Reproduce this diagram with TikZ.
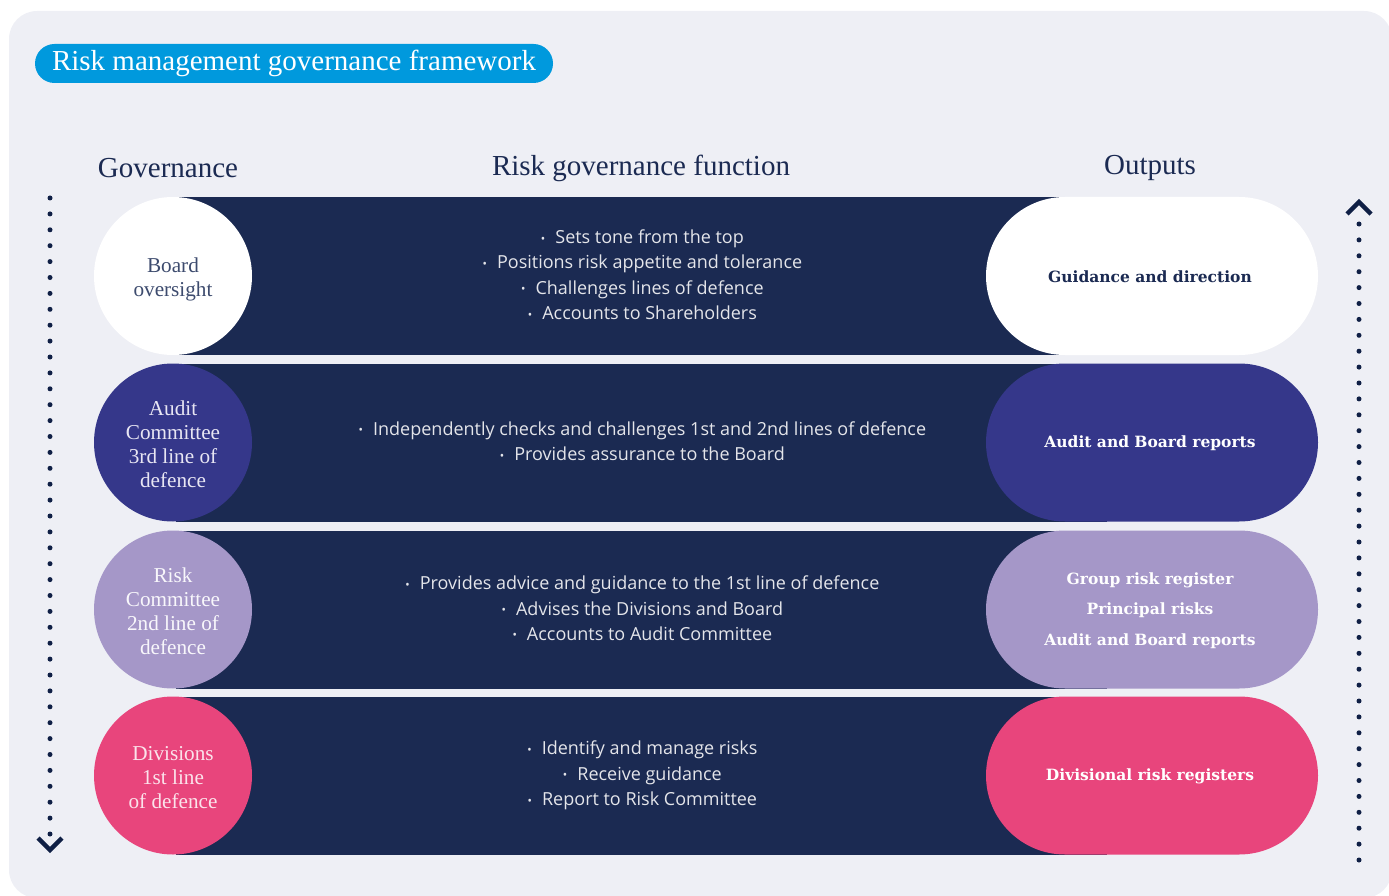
\documentclass[tikz,border=0pt]{standalone}
\usepackage{fontspec}
\setmainfont{Liberation Serif}
\newfontfamily\bodyfont{Open Sans}
\newfontfamily\slabfont{DejaVu Serif}
\usetikzlibrary{calc}
\definecolor{panel}{HTML}{EEEFF5}
\definecolor{navy}{HTML}{1B2A52}
\definecolor{indigo}{HTML}{35378A}
\definecolor{lavender}{HTML}{A597C8}
\definecolor{pink}{HTML}{E8457C}
\definecolor{titleblue}{HTML}{0099DD}
\definecolor{dotcol}{HTML}{0F1F45}
\definecolor{softnavy}{HTML}{3D4B6E}
\definecolor{paletext}{HTML}{E8E6F3}
\newcommand{\bul}{\raisebox{-2.5pt}{\fontsize{22}{22}\selectfont·}\ \ }
\tikzset{
  band/.style={fill=navy, minimum width=931pt, minimum height=158pt, inner sep=0pt, anchor=west},
  bodyrole/.style={circle, minimum size=158pt, inner sep=0pt, align=center,
    font=\fontsize{21.2}{24}\selectfont},
  output/.style={rounded corners=79pt, minimum width=332pt, minimum height=158pt,
    inner sep=0pt, align=center, font=\slabfont\bfseries\fontsize{15.5}{30.5}\selectfont},
  bullets/.style={align=center, text=white!88!navy, font=\bodyfont\fontsize{18}{25.3}\selectfont},
  heading/.style={text=navy, font=\fontsize{29}{32}\selectfont},
  dotline/.style={dotcol, line width=5pt, line cap=round, dash pattern=on 0pt off 15.9pt},
  chevron/.style={dotcol, line width=4.5pt, line cap=butt, line join=miter}
}
\begin{document}
\begin{tikzpicture}[x=1pt,y=-1pt]
\useasboundingbox (0,0) rectangle (1389,896);
% background panel
\fill[panel, rounded corners=28pt] (9,11) rectangle (1392,898);

% title
\node[fill=titleblue, rounded corners=19.5pt, minimum width=518pt, minimum height=39pt,
  inner sep=0pt, text=white, font=\fontsize{29}{32}\selectfont] (title) at (294,63.5)
  {\raisebox{-2pt}{Risk management governance framework}};

% column headings
\node[heading] (h1) at (168,168) {Governance};
\node[heading] (h2) at (641,168) {Risk governance function};
\node[heading] (h3) at (1150,168) {Outputs};

% rows: band, role circle, function text, output pill
\node[band] (b1) at (176,276) {};
\node[band] (b2) at (176,442.5) {};
\node[band] (b3) at (176,609.5) {};
\node[band] (b4) at (176,775.5) {};

\node[bodyrole, fill=white, text=softnavy] (r1) at (173,276) {};
\node[bodyrole, fill=indigo, text=paletext] (r2) at (173,442.5) {};
\node[bodyrole, fill=lavender, text=white!92!lavender] (r3) at (173,609.5) {};
\node[bodyrole, fill=pink, text=white!85!pink] (r4) at (173,775.5) {};
\node[bodyrole, text=softnavy, minimum size=0pt] (t1) at ($(r1)+(0,3)$) {Board\\oversight};
\node[bodyrole, text=paletext, minimum size=0pt] (t2) at ($(r2)+(0,2)$) {Audit\\Committee\\3rd line of\\defence};
\node[bodyrole, text=white!92!lavender, minimum size=0pt] (t3) at ($(r3)+(0,2)$) {Risk\\Committee\\2nd line of\\defence};
\node[bodyrole, text=white!85!pink, minimum size=0pt] (t4) at ($(r4)+(0,2)$) {Divisions\\1st line\\of defence};

\node[bullets] (f1) at (642,276) {\bul Sets tone from the top\\\bul Positions risk appetite and tolerance\\\bul Challenges lines of defence\\\bul Accounts to Shareholders};
\node[bullets] (f2) at (642,442.5) {\bul Independently checks and challenges 1st and 2nd lines of defence\\\bul Provides assurance to the Board};
\node[bullets] (f3) at (642,609.5) {\bul Provides advice and guidance to the 1st line of defence\\\bul Advises the Divisions and Board\\\bul Accounts to Audit Committee};
\node[bullets] (f4) at (642,775.5) {\bul Identify and manage risks\\\bul Receive guidance\\\bul Report to Risk Committee};

\node[output, fill=white, text=navy] (o1) at (1152,276) {};
\node[output, fill=indigo, text=white] (o2) at (1152,442.5) {};
\node[output, fill=lavender, text=white] (o3) at (1152,609.5) {};
\node[output, fill=pink, text=white] (o4) at (1152,775.5) {};
\node[output, text=navy, minimum size=0pt] (p1) at ($(o1)+(-2,1)$) {Guidance and direction};
\node[output, text=white, minimum size=0pt] (p2) at ($(o2)+(-2,1)$) {Audit and Board reports};
\node[output, text=white, minimum size=0pt] (p3) at ($(o3)+(-2,1)$) {Group risk register\\Principal risks\\Audit and Board reports};
\node[output, text=white, minimum size=0pt] (p4) at ($(o4)+(-2,1)$) {Divisional risk registers};

% dotted direction indicators
\coordinate (ltop) at (50,198);
\coordinate (lbot) at (50,834);
\coordinate (rtop) at (1359,224);
\coordinate (rbot) at (1359,860);
\draw[dotline] (ltop) -- (lbot);
\draw[dotline] (rtop) -- (rbot);
\draw[chevron] ($(lbot)+(-12,4)$) -- ($(lbot)+(0,16)$) -- ($(lbot)+(12,4)$);
\draw[chevron] ($(rtop)+(-12,-10)$) -- ($(rtop)+(0,-22)$) -- ($(rtop)+(12,-10)$);
\end{tikzpicture}
\end{document}
